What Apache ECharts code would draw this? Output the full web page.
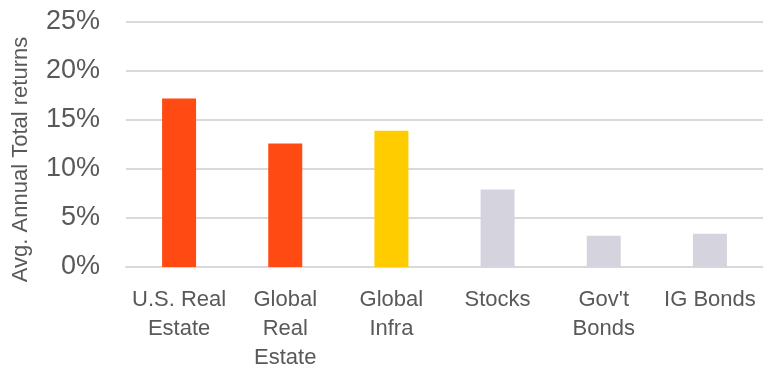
<!DOCTYPE html>
<html>
<head>
<meta charset="utf-8">
<script src="https://cdn.jsdelivr.net/npm/echarts@6/dist/echarts.min.js"></script>
<style>html,body{margin:0;padding:0;background:#fff;}#chart{width:763px;height:365px;}</style>
</head>
<body>
<div id="chart"></div>
<script>
const categories = ["U.S. Real\nEstate", "Global\nReal\nEstate", "Global\nInfra", "Stocks", "Gov't\nBonds", "IG Bonds"];
const returns = [17.2, 12.6, 13.9, 7.9, 3.2, 3.4];
const barColors = ["#FF4A14", "#FF4A14", "#FFCC00", "#D5D4DE", "#D5D4DE", "#D5D4DE"];
const yTicks = { min: 0, max: 25, interval: 5 };
const yAxisTitle = "Avg. Annual Total returns";

const chart = echarts.init(document.getElementById('chart'), null, { renderer: 'canvas' });
chart.setOption({
  animation: false,
  backgroundColor: '#ffffff',
  grid: { left: 126, right: 0, top: 22, bottom: 98, containLabel: false, outerBoundsMode: 'none' },
  xAxis: {
    type: 'category',
    data: categories,
    axisLine: { show: true, lineStyle: { color: '#D9D9D9', width: 2 } },
    axisTick: { show: false },
    axisLabel: {
      interval: 0, margin: 18, color: '#595959',
      fontFamily: 'Liberation Sans', fontSize: 22, lineHeight: 29
    }
  },
  yAxis: {
    type: 'value',
    min: yTicks.min, max: yTicks.max, interval: yTicks.interval,
    name: yAxisTitle,
    nameLocation: 'middle',
    nameRotate: 90,
    nameGap: 94,
    nameTextStyle: { color: '#595959', fontFamily: 'Liberation Sans', fontSize: 22, padding: [0, 30, 0, 0] },
    axisLine: { show: false },
    axisTick: { show: false },
    axisLabel: {
      margin: 26, color: '#595959', fontFamily: 'Liberation Sans', fontSize: 27,
      formatter: '{value}%'
    },
    splitLine: { lineStyle: { color: '#D9D9D9', width: 2 } }
  },
  series: [{
    type: 'bar',
    barWidth: 34,
    data: returns.map((v, i) => ({ value: v, itemStyle: { color: barColors[i] } }))
  }]
});
</script>
</body>
</html>
